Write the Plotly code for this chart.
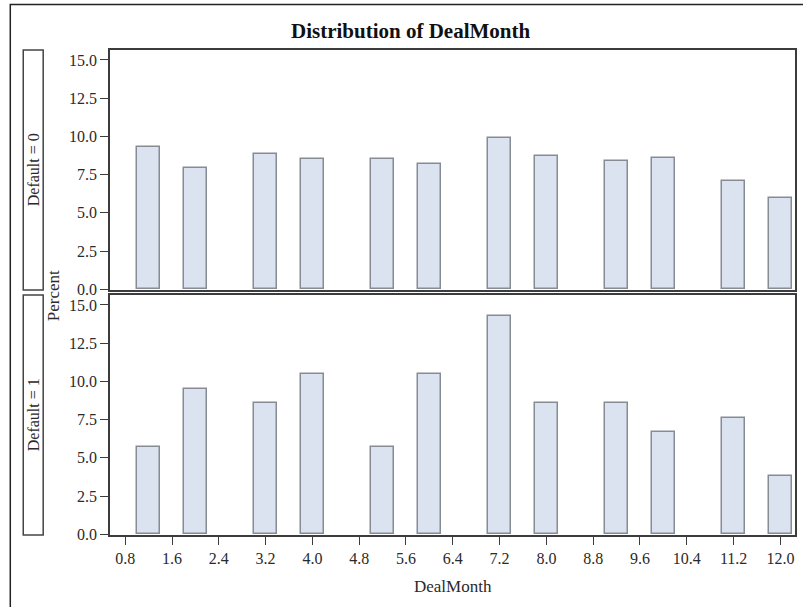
import plotly.graph_objects as go

# ---- data ----
bin_midpoints = [1.2, 2.0, 3.2, 4.0, 5.2, 6.0, 7.2, 8.0, 9.2, 10.0, 11.2, 12.0]
bin_width = 0.4
pct_default0 = [9.29, 7.91, 8.83, 8.50, 8.50, 8.22, 9.92, 8.72, 8.37, 8.59, 7.10, 5.97]
pct_default1 = [5.71, 9.52, 8.57, 10.48, 5.71, 10.48, 14.29, 8.57, 8.57, 6.67, 7.62, 3.81]
panel_labels = ["Default = 0", "Default = 1"]
x_ticks = [0.8, 1.6, 2.4, 3.2, 4.0, 4.8, 5.6, 6.4, 7.2, 8.0, 8.8, 9.6, 10.4, 11.2, 12.0]
y_ticks = [0.0, 2.5, 5.0, 7.5, 10.0, 12.5, 15.0]
title_text = "Distribution of DealMonth"
x_title = "DealMonth"
y_title = "Percent"

# ---- geometry ----
W, H = 803, 607
ML, MR, MT, MB = 110, 6, 50, 72
PW = W - ML - MR
PH = H - MT - MB

def px(x):
    return (x - ML) / PW

def py(y):
    return (H - MB - y) / PH

FONT = "Liberation Serif"
FILL = "#dae3ef"
EDGE = "#868b94"
FRAME = "#3c3c3c"

fig = go.Figure()
for vals, ax in [(pct_default0, "y"), (pct_default1, "y2")]:
    fig.add_trace(go.Bar(
        x=bin_midpoints, y=vals, width=[bin_width] * len(vals),
        marker=dict(color=FILL, line=dict(color=EDGE, width=1.5)),
        xaxis="x" if ax == "y" else "x2", yaxis=ax, showlegend=False,
        hoverinfo="x+y",
    ))

top_dom = [py(290), 1.0]
bot_dom = [0.0, py(295)]
yr = [-0.045, 15.65]
xr = [0.54, 12.25]

axis_common = dict(showline=True, mirror=True, linecolor=FRAME, linewidth=1.5,
                   showgrid=False, zeroline=False)
tickfont = dict(family=FONT, size=16, color="#2a2a2a")

fig.update_layout(
    width=W, height=H,
    margin=dict(l=ML, r=MR, t=MT, b=MB, pad=0),
    paper_bgcolor="white", plot_bgcolor="white",
    bargap=0,
    xaxis=dict(domain=[0, 1], range=xr, anchor="y", showticklabels=False,
               ticks="", **axis_common),
    yaxis=dict(domain=top_dom, range=yr, anchor="x", tickvals=y_ticks,
               tickformat=".1f", ticks="outside", ticklen=8, tickcolor=FRAME,
               tickwidth=1.2, tickfont=tickfont, **axis_common),
    xaxis2=dict(domain=[0, 1], range=xr, anchor="y2", tickvals=x_ticks,
                tickformat=".1f", ticks="outside", ticklen=8, tickcolor=FRAME,
                tickwidth=1.2, tickfont=tickfont, matches="x", **axis_common),
    yaxis2=dict(domain=bot_dom, range=yr, anchor="x2", tickvals=y_ticks,
                tickformat=".1f", ticks="outside", ticklen=8, tickcolor=FRAME,
                tickwidth=1.2, tickfont=tickfont, **axis_common),
)

shapes = []
# outer border
shapes.append(dict(type="rect", xref="paper", yref="paper",
                   x0=px(10), x1=px(806), y0=py(612), y1=py(4.5),
                   line=dict(color="#222", width=1.5), fillcolor="rgba(0,0,0,0)"))
# row header boxes
for dom in (top_dom, bot_dom):
    shapes.append(dict(type="rect", xref="paper", yref="paper",
                       x0=px(23), x1=px(43), y0=dom[0], y1=dom[1],
                       line=dict(color="#444", width=1.5), fillcolor="white"))
fig.update_layout(shapes=shapes)

ann = []
for lab, dom in zip(panel_labels, (top_dom, bot_dom)):
    ann.append(dict(text=lab, xref="paper", yref="paper", x=px(33),
                    y=(dom[0] + dom[1]) / 2, textangle=-90, showarrow=False,
                    xanchor="center", yanchor="middle",
                    font=dict(family=FONT, size=16, color="#2a2a2a")))
ann.append(dict(text=y_title, xref="paper", yref="paper", x=px(53), y=py(296),
                textangle=-90, showarrow=False, xanchor="center", yanchor="middle",
                font=dict(family=FONT, size=17, color="#2a2a2a")))
ann.append(dict(text=x_title, xref="paper", yref="paper", x=0.5, y=py(586),
                showarrow=False, xanchor="center", yanchor="middle",
                font=dict(family=FONT, size=17, color="#2a2a2a")))
ann.append(dict(text="<b>" + title_text + "</b>", xref="paper", yref="paper",
                x=px(411), y=py(31), showarrow=False, xanchor="center",
                yanchor="middle", font=dict(family=FONT, size=21, color="#111")))
fig.update_layout(annotations=ann)

fig.write_html("out.html", config={"displayModeBar": False})

# remove the default page margin so the figure sits at the window origin
with open("out.html", "r", encoding="utf-8") as f:
    html = f.read()
html = html.replace("<head>", "<head><style>html,body{margin:0;padding:0;overflow:hidden;}</style>", 1)
with open("out.html", "w", encoding="utf-8") as f:
    f.write(html)
